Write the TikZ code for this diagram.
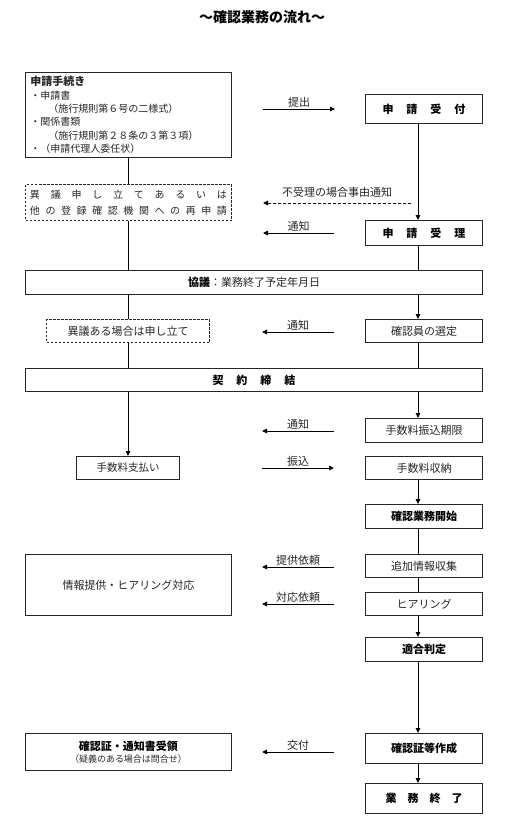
\documentclass[tikz,border=0pt]{standalone}
\usepackage{fontspec}
\setmainfont{Noto Sans CJK JP}
\usetikzlibrary{arrows.meta}
\newcommand\gapA{\hspace{13pt}}
\newcommand\gapB{\hspace{11pt}}
\begin{document}
\begin{tikzpicture}[x=1pt,y=-1pt,
  box/.style={draw=black!85, line width=0.9pt, inner sep=0pt, align=center,
    font=\fontsize{11}{13}\selectfont, text=black!85},
  bbox/.style={box, font=\fontsize{11}{13}\selectfont\bfseries, text=black},
  dbox/.style={box, dash pattern=on 2.5pt off 1.5pt, line width=0.8pt},
  conn/.style={line width=0.9pt, draw=black},
  arr/.style={conn, -{Triangle[length=5pt,width=4.5pt]}},
  lbl/.style={font=\fontsize{11}{13}\selectfont, text=black!85, inner sep=1.5pt}
]
\useasboundingbox (0,0) rectangle (512,831);

% title
\node[font=\fontsize{14}{16}\selectfont\bfseries] (title) at (262,17) {～確認業務の流れ～};

% left column
\node[box, minimum width=206pt, minimum height=85pt, text width=196pt, align=left,
  font=\fontsize{10}{13.4}\selectfont] (app) at (128.5,115)
  {{\bfseries\fontsize{11}{13.4}\selectfont 申請手続き}\\
   ・申請書\\
   \hspace*{18pt}（施行規則第６号の二様式）\\
   ・関係書類\\
   \hspace*{18pt}（施行規則第２８条の３第３項）\\
   ・（申請代理人委任状）};
\node[dbox, minimum width=206pt, minimum height=36pt, font=\fontsize{10}{15.5}\selectfont] (obj) at (128.5,202.5)
  {\hbox to 197pt{異\hfill 議\hfill 申\hfill し\hfill 立\hfill て\hfill あ\hfill る\hfill い\hfill は}\\
   \hbox to 197pt{他\hfill の\hfill 登\hfill 録\hfill 確\hfill 認\hfill 機\hfill 関\hfill へ\hfill の\hfill 再\hfill 申\hfill 請}};
\node[dbox, minimum width=163pt, minimum height=23pt] (obj2) at (128,331) {異議ある場合は申し立て};
\node[box, minimum width=103pt, minimum height=23pt, font=\fontsize{10.5}{13}\selectfont] (pay) at (128,468) {手数料支払い};
\node[box, minimum width=206pt, minimum height=61pt] (info) at (128.5,585) {情報提供・ヒアリング対応};
\node[box, minimum width=206pt, minimum height=37pt, font=\fontsize{11}{13}\selectfont] (cert) at (128.5,752)
  {{\bfseries\color{black}確認証・通知書受領}\\[-1pt]{\fontsize{9}{11}\selectfont （疑義のある場合は問合せ）}};

% wide boxes
\node[box, minimum width=457pt, minimum height=24pt] (kyogi) at (254,282.5)
  {{\bfseries\color{black}協議}：業務終了予定年月日};
\node[bbox, minimum width=457pt, minimum height=23pt] (contract) at (254,380)
  {契\gapA 約\gapA 締\gapA 結};

% right column
\node[bbox, minimum width=117pt, minimum height=29pt] (recv) at (424,109) {申\gapA 請\gapA 受\gapA 付};
\node[bbox, minimum width=117pt, minimum height=25pt] (accept) at (424,233) {申\gapA 請\gapA 受\gapA 理};
\node[box, minimum width=117pt, minimum height=23pt] (select) at (424,331) {確認員の選定};
\node[box, minimum width=117pt, minimum height=24pt] (deadline) at (424,430.5) {手数料振込期限};
\node[box, minimum width=117pt, minimum height=23pt] (receipt) at (424,468) {手数料収納};
\node[bbox, minimum width=117pt, minimum height=24pt] (start) at (424,516.5) {確認業務開始};
\node[box, minimum width=117pt, minimum height=23pt] (collect) at (424,566) {追加情報収集};
\node[box, minimum width=117pt, minimum height=23pt] (hearing) at (424,604) {ヒアリング};
\node[bbox, minimum width=117pt, minimum height=24pt] (judge) at (424,649.5) {適合判定};
\node[bbox, minimum width=117pt, minimum height=30pt] (make) at (424,748.5) {確認証等作成};
\node[bbox, minimum width=117pt, minimum height=30pt] (fin) at (424,798.5) {業\gapB 務\gapB 終\gapB 了};

% column coordinates
\coordinate (lc) at (128,0);
\coordinate (rc) at (418,0);

% left vertical connectors
\draw[conn] (app.south -| lc) -- (obj.north -| lc);
\draw[conn] (obj.south -| lc) -- (kyogi.north -| lc);
\draw[conn] (kyogi.south -| lc) -- (obj2.north -| lc);
\draw[conn] (obj2.south -| lc) -- (contract.north -| lc);
\draw[arr] (contract.south -| lc) -- (pay.north -| lc);

% right vertical connectors
\draw[arr] (recv.south -| rc) -- (accept.north -| rc);
\draw[conn] (accept.south -| rc) -- (kyogi.north -| rc);
\draw[arr] (kyogi.south -| rc) -- (select.north -| rc);
\draw[conn] (select.south -| rc) -- (contract.north -| rc);
\draw[arr] (contract.south -| rc) -- (deadline.north -| rc);
\draw[arr] (receipt.south -| rc) -- (start.north -| rc);
\draw[conn] (start.south -| rc) -- (collect.north -| rc);
\draw[conn] (collect.south -| rc) -- (hearing.north -| rc);
\draw[arr] (hearing.south -| rc) -- (judge.north -| rc);
\draw[arr] (judge.south -| rc) -- (make.north -| rc);
\draw[arr] (make.south -| rc) -- (fin.north -| rc);

% horizontal arrows
\coordinate (a1l) at (263,109); \coordinate (a1r) at (335,109);
\draw[arr] (a1l) -- node[lbl, above] {提出} (a1r);
\coordinate (a2l) at (263,203); \coordinate (a2r) at (411,203);
\draw[arr, dash pattern=on 3pt off 2pt] (a2r) -- node[lbl, above=4pt] {不受理の場合事由通知} (a2l);
\coordinate (a3l) at (263,233); \coordinate (a3r) at (334,233);
\draw[arr] (a3r) -- node[lbl, above] {通知} (a3l);
\coordinate (a4l) at (262,332); \coordinate (a4r) at (334,332);
\draw[arr] (a4r) -- node[lbl, above] {通知} (a4l);
\coordinate (a5l) at (262,431); \coordinate (a5r) at (334,431);
\draw[arr] (a5r) -- node[lbl, above] {通知} (a5l);
\coordinate (a6l) at (262,468); \coordinate (a6r) at (334,468);
\draw[arr] (a6l) -- node[lbl, above] {振込} (a6r);
\coordinate (a7l) at (262,567); \coordinate (a7r) at (334,567);
\draw[arr] (a7r) -- node[lbl, above] {提供依頼} (a7l);
\coordinate (a8l) at (262,604); \coordinate (a8r) at (334,604);
\draw[arr] (a8r) -- node[lbl, above] {対応依頼} (a8l);
\coordinate (a9l) at (262,752); \coordinate (a9r) at (334,752);
\draw[arr] (a9r) -- node[lbl, above] {交付} (a9l);
\end{tikzpicture}
\end{document}
